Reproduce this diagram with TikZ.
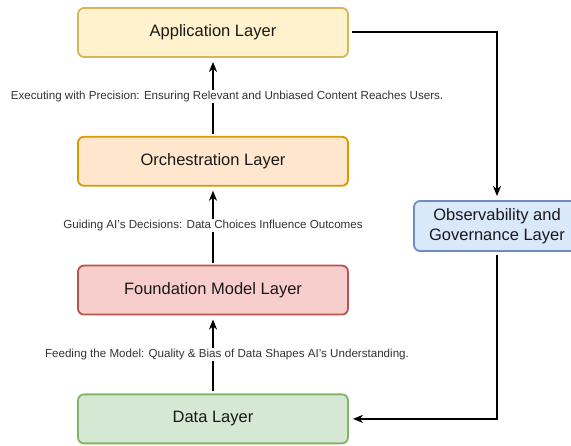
\documentclass[tikz,border=0pt]{standalone}
\usepackage{fontspec}
\setmainfont{Liberation Sans}
\usetikzlibrary{arrows.meta,positioning}
\definecolor{appFill}{HTML}{FFF2CC}\definecolor{appDraw}{HTML}{D6B656}
\definecolor{orchFill}{HTML}{FFE6CC}\definecolor{orchDraw}{HTML}{D79B00}
\definecolor{fmFill}{HTML}{F8CECC}\definecolor{fmDraw}{HTML}{B85450}
\definecolor{dataFill}{HTML}{D5E8D4}\definecolor{dataDraw}{HTML}{82B366}
\definecolor{obsFill}{HTML}{DAE8FC}\definecolor{obsDraw}{HTML}{6C8EBF}

\begin{document}
\begin{tikzpicture}[
  x=1pt, y=1pt,
  node distance=78pt,
  layer/.style={rectangle, line width=1.8pt, rounded corners=6pt, align=center, text=black!90, font=\fontsize{16.5}{19.5}\selectfont, minimum width=270pt, minimum height=49pt},
  govern/.style={rectangle, line width=1.8pt, rounded corners=6pt, align=center, text=black!90, font=\fontsize{16.5}{19.5}\selectfont, minimum width=166pt, minimum height=50pt},
  arrow/.style={-{Stealth[length=10pt, width=8pt, inset=3pt]}, line width=2.4pt, color=black, shorten >=4pt, shorten <=2pt},
  arrowSide/.style={-{Stealth[length=10pt, width=8pt, inset=3pt]}, line width=2pt, color=black, shorten >=4pt, shorten <=3pt},
  caption/.style={fill=white, inner sep=1pt, font=\fontsize{11.6}{13}\selectfont, text=black!80}
]
\useasboundingbox (0,0) rectangle (571,-446);

% Layer stack
\node[layer, fill=appFill, draw=appDraw] (app) at (213,-32.5) {Application Layer};
\node[layer, fill=orchFill, draw=orchDraw, below=of app] (orch) {Orchestration Layer};
\node[layer, fill=fmFill, draw=fmDraw, below=of orch] (fm) {Foundation Model Layer};
\node[layer, fill=dataFill, draw=dataDraw, below=of fm] (data) {Data Layer};

% Observability and governance (side)
\node[govern, fill=obsFill, draw=obsDraw] (obs) at (497,-226) {Observability and\\Governance Layer};

% Upward flow
\draw[arrow] (data.north) -- node[caption, midway, xshift=14pt]{Feeding the Model: Quality \& Bias of Data Shapes AI's Understanding.} (fm.south);
\draw[arrow] (fm.north) -- node[caption, midway]{Guiding AI's Decisions: Data Choices Influence Outcomes} (orch.south);
\draw[arrow] (orch.north) -- node[caption, midway, xshift=14pt]{Executing with Precision: Ensuring Relevant and Unbiased Content Reaches Users.} (app.south);

% Feedback loop through governance
\draw[arrowSide] (app.east) -| (obs.north);
\draw[arrowSide] (obs.south) |- (data.east);

\end{tikzpicture}
\end{document}
